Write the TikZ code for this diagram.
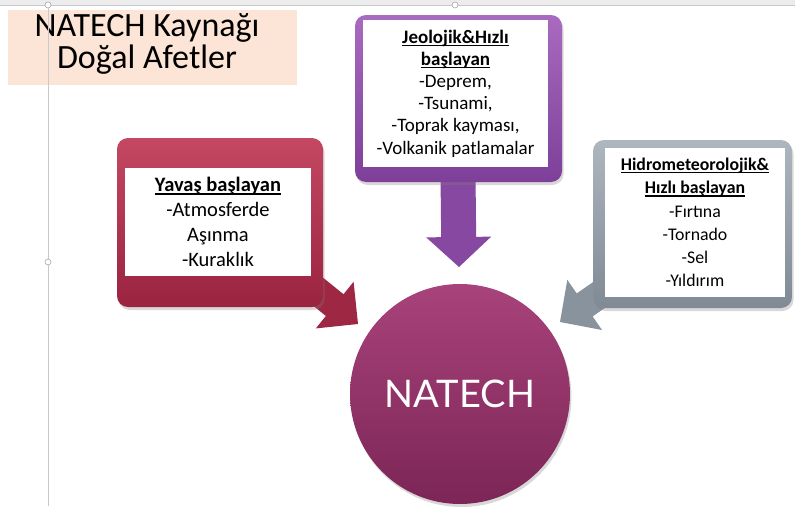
\documentclass[tikz,border=0pt]{standalone}
\usepackage{fontspec}
\setmainfont{Carlito}
\newfontfamily\circlefont{Lato}
\usetikzlibrary{calc,shadows}

\definecolor{peach}{HTML}{FCE4D6}
\definecolor{redTop}{HTML}{C44862}
\definecolor{redBot}{HTML}{9A2340}
\definecolor{purpleTop}{HTML}{A86BC0}
\definecolor{purpleBot}{HTML}{7D3F98}
\definecolor{greyTop}{HTML}{AEB6BF}
\definecolor{greyBot}{HTML}{7F8A95}
\definecolor{plumTop}{HTML}{A8437B}
\definecolor{plumBot}{HTML}{7C2556}
\definecolor{guidegray}{HTML}{C9C9C9}

% bold heading with a rule just under the baseline
\newcommand{\ulbox}[1]{\setbox0\hbox{#1}\rlap{\vrule width\wd0 height -1.7pt depth 2.9pt}\box0}

% block arrow: foot, tip, colour, shaft half width, head half width
\newcommand{\blockarrow}[5]{%
  \coordinate (ba-h) at ($(#2)!30pt!(#1)$);
  \fill[#3] ($(#1)!#4!90:(#2)$) -- ($(ba-h)!#4!90:(#2)$) -- ($(ba-h)!#5!90:(#2)$)
    -- (#2) -- ($(ba-h)!#5!-90:(#2)$) -- ($(ba-h)!#4!-90:(#2)$)
    -- ($(#1)!#4!-90:(#2)$) -- cycle;
}

\begin{document}
\begin{tikzpicture}[x=1pt,y=-1pt,
  framebox/.style={rounded corners=11pt,inner sep=0pt,
    drop shadow={opacity=.3,shadow xshift=1.5pt,shadow yshift=-3pt}},
  textbox/.style={fill=white,inner sep=0pt,align=center},
  titleline/.style={font=\fontsize{34}{31}\selectfont,inner sep=0pt,anchor=base,
    text height=22pt,text depth=4pt},
  handle/.style={circle,draw=gray!70,fill=white,line width=0.6pt,
    inner sep=0pt,minimum size=6pt}]
  \useasboundingbox (0,0) rectangle (795,506);
  \fill[white] (0,0) rectangle (795,506);

  % slide chrome
  \fill[gray!15] (0,0) rectangle (795,5);
  \draw[guidegray,line width=0.5pt] (0,5) -- (795,5);

  % title
  \node[fill=peach,inner sep=0pt,minimum width=289pt,minimum height=75pt]
    (titlebox) at (152.5,47.5) {};
  \node[titleline] (title1) at (147,36.5) {NATECH Kaynağı};
  \node[titleline] (title2) at (147,68.5) {Doğal Afetler};

  % arrows (under the boxes)
  \coordinate (redfoot) at (300,277);
  \coordinate (redtip) at (358,324);
  \coordinate (purplefoot) at (458,175);
  \coordinate (purpletip) at (459,267);
  \coordinate (greyfoot) at (612,286);
  \coordinate (greytip) at (560,322);
  \blockarrow{redfoot}{redtip}{redBot!90!redTop}{14pt}{30pt}
  \blockarrow{purplefoot}{purpletip}{purpleBot!80!purpleTop}{17.5pt}{32.5pt}
  \blockarrow{greyfoot}{greytip}{greyBot!80!greyTop}{14pt}{30.5pt}

  % slow onset
  \node[framebox,top color=redTop,bottom color=redBot,
    minimum width=206pt,minimum height=169pt] (yavas) at (220,222.5) {};
  \node[textbox,minimum width=186pt,minimum height=108pt,
    font=\fontsize{20.5}{25}\selectfont] (yavastext) at (218,222)
    {\ulbox{\textbf{Yavaş başlayan}}\\-Atmosferde\\Aşınma\\-Kuraklık};

  % geological
  \node[framebox,top color=purpleTop,bottom color=purpleBot,
    minimum width=207pt,minimum height=167pt] (jeo) at (458.5,98.5) {};
  \node[textbox,minimum width=185pt,minimum height=147pt,
    font=\fontsize{19}{22.2}\selectfont] (jeotext) at (455.5,93.5)
    {\ulbox{\textbf{Jeolojik\&Hızlı}}\\\ulbox{\textbf{başlayan}}\\-Deprem,\\-Tsunami,\\-Toprak kayması,\\-Volkanik patlamalar};

  % hydro-meteorological
  \node[framebox,top color=greyTop,bottom color=greyBot,
    minimum width=199pt,minimum height=168pt] (hidro) at (692.5,224) {};
  \node[textbox,minimum width=180pt,minimum height=149pt,
    font=\fontsize{17.8}{23.3}\selectfont] (hidrotext) at (695,222.5)
    {\ulbox{\textbf{Hidrometeorolojik\&}}\\\ulbox{\textbf{Hızlı başlayan}}\\-Fırtına\\-Tornado\\-Sel\\-Yıldırım};

  % centre
  \node[circle,inner sep=0pt,minimum size=220pt,top color=plumTop,bottom color=plumBot,
    drop shadow={opacity=.3,shadow xshift=1.5pt,shadow yshift=-3pt},
    text=white,font=\circlefont\fontsize{38}{38}\selectfont] (natech) at (460,394) {NATECH};

  % selection guide
  \node[handle] (hTopLeft) at (48,5) {};
  \node[handle] (hTopMid) at (455,5) {};
  \coordinate (guideEnd) at (48,506);
  \draw[guidegray,line width=0.8pt] (hTopLeft) -- (guideEnd);
  \node[handle] (hMidLeft) at (48,262) {};
\end{tikzpicture}
\end{document}
